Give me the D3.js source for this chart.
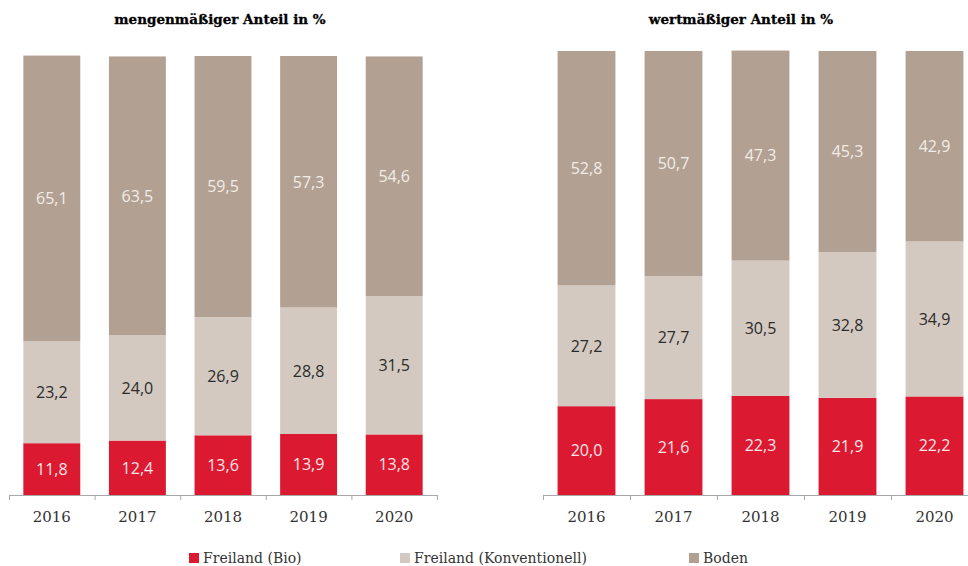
<!DOCTYPE html>
<html><head><meta charset="utf-8">
<script src="https://cdn.jsdelivr.net/npm/d3@7"></script>
<style>html,body{margin:0;padding:0;background:#fff}svg{display:block}</style>
</head><body>
<svg id="c" width="968" height="566"></svg>
<script>
const years = ["2016","2017","2018","2019","2020"];
const seriesNames = ["Freiland (Bio)","Freiland (Konventionell)","Boden"];
const mengeBio = [11.8,12.4,13.6,13.9,13.8];
const mengeKonv = [23.2,24.0,26.9,28.8,31.5];
const mengeBoden = [65.1,63.5,59.5,57.3,54.6];
const wertBio = [20.0,21.6,22.3,21.9,22.2];
const wertKonv = [27.2,27.7,30.5,32.8,34.9];
const wertBoden = [52.8,50.7,47.3,45.3,42.9];
const titles = ["mengenmäßiger Anteil in %","wertmäßiger Anteil in %"];

const colors = ["#DB1A32","#D3C9C0","#B2A193"];
const labelColors = ["#FCE4E6","#2b2b2b","#F2ECE6"];
const svg = d3.select("#c");
const fmt = v => d3.format(".1f")(v).replace(".", ",");

function panel(title, bio, konv, boden, x0, x1, yTop, yBot, titleX) {
  const rows = years.map((y,i)=>({year:y, bio:bio[i], konv:konv[i], boden:boden[i]}));
  const keys = ["bio","konv","boden"];
  const stack = d3.stack().keys(keys)(rows);
  const x = d3.scaleBand().domain(years).range([x0,x1]).paddingInner(0.335).paddingOuter(0.1675);
  const y = d3.scaleLinear().domain([0, 100]).range([yBot, yTop]);
  const g = svg.append("g");
  stack.forEach((s,k)=>{
    g.append("g").selectAll("rect").data(s).join("rect")
      .attr("x", d=>x(d.data.year)).attr("width", x.bandwidth())
      .attr("y", d=>y(d[1])).attr("height", d=>y(d[0])-y(d[1]))
      .attr("fill", colors[k]);
    g.append("g").selectAll("text").data(s).join("text")
      .attr("x", d=>x(d.data.year)+x.bandwidth()/2)
      .attr("y", d=>(y(d[0])+y(d[1]))/2)
      .attr("dy","0.36em").attr("text-anchor","middle")
      .attr("font-family","'Open Sans', sans-serif").attr("font-size","16px")
      .attr("fill", labelColors[k])
      .text(d=>fmt(d[1]-d[0]));
  });
  const ax = g.append("g").attr("transform",`translate(0,${yBot})`);
  ax.append("line").attr("x1",x0).attr("x2",x1).attr("y1",0.5).attr("y2",0.5).attr("stroke","#a8a8a8");
  const bounds = d3.range(years.length+1).map(i => x0 + i*x.step());
  ax.selectAll("line.t").data(bounds).join("line").attr("class","t")
    .attr("x1",d=>d+0.5).attr("x2",d=>d+0.5).attr("y1",0).attr("y2",5).attr("stroke","#a8a8a8");
  ax.selectAll("text").data(years).join("text")
    .attr("x", d=>x(d)+x.bandwidth()/2).attr("y", 27)
    .attr("text-anchor","middle").attr("font-family","'DejaVu Serif', serif").attr("font-size","15px")
    .attr("fill","#333").text(d=>d);
  svg.append("text").attr("x", titleX).attr("y", 24).attr("text-anchor","middle")
    .attr("font-family","'DejaVu Serif', serif").attr("font-weight","bold").attr("font-size","13.5px")
    .attr("fill","#000").attr("stroke","#000").attr("stroke-width","0.3").text(title);
}
panel(titles[0], mengeBio, mengeKonv, mengeBoden, 9, 437, 56, 495, 220);
panel(titles[1], wertBio, wertKonv, wertBoden, 543, 978, 51, 495, 741);

const lx = [189, 400, 689];
const lg = svg.append("g");
seriesNames.forEach((n,i)=>{
  lg.append("rect").attr("x", lx[i]).attr("y", 553).attr("width", 10).attr("height", 10).attr("fill", colors[i]);
  lg.append("text").attr("x", lx[i]+14).attr("y", 563)
    .attr("font-family","'DejaVu Serif', serif").attr("font-size","14px").attr("fill","#333").text(n);
});
</script>
</body></html>
